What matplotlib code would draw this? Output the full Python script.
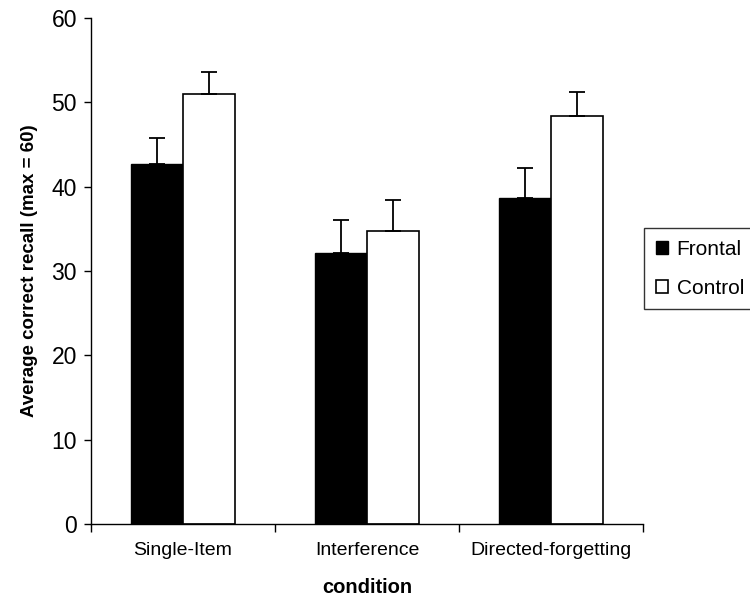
import numpy as np
import matplotlib.pyplot as plt

plt.rcParams['font.family'] = ['Liberation Sans', 'DejaVu Sans']

conditions = ["Single-Item", "Interference", "Directed-forgetting"]
frontal = [42.7, 32.1, 38.7]
frontal_err = [3.1, 3.9, 3.5]
control = [51.0, 34.7, 48.4]
control_err = [2.6, 3.7, 2.8]

fig = plt.figure(figsize=(7.5, 6.04), dpi=100)
ax = fig.add_axes([0.1213, 0.1325, 0.736, 0.838])

x = np.arange(len(conditions))
w = 0.283
err_kw = dict(ecolor='black', elinewidth=1.3, capsize=5.5, capthick=1.3)
ax.bar(x - w / 2, frontal, w, color='black', edgecolor='black', linewidth=1,
       yerr=[np.zeros(3), frontal_err], error_kw=err_kw, label='Frontal')
ax.bar(x + w / 2, control, w, color='white', edgecolor='black', linewidth=1.2,
       yerr=[np.zeros(3), control_err], error_kw=err_kw, label='Control')

ax.set_xlim(-0.5, 2.5)
ax.set_ylim(0, 60)
ax.set_yticks(range(0, 61, 10))
ax.tick_params(axis='y', labelsize=16.5, length=5, width=1, direction='out', pad=5)

ax.set_xticks([-0.5, 0.5, 1.5, 2.5])
ax.set_xticklabels([])
ax.tick_params(axis='x', length=6, width=1, direction='out')
ax.set_xticks(x, minor=True)
ax.set_xticklabels(conditions, minor=True, fontsize=14)
ax.tick_params(axis='x', which='minor', length=0, pad=13)

for s in ['top', 'right']:
    ax.spines[s].set_visible(False)
for s in ['left', 'bottom']:
    ax.spines[s].set_linewidth(1)

ax.set_ylabel('Average correct recall (max = 60)', fontsize=13.5, fontweight='bold', labelpad=10)
ax.set_xlabel('condition', fontsize=14.5, fontweight='bold', labelpad=14)

leg = fig.legend(loc='upper left', bbox_to_anchor=(0.859, 0.622), fontsize=15,
                 frameon=True, fancybox=False, handlelength=0.6, handleheight=0.6,
                 handletextpad=0.4, borderpad=0.55, labelspacing=0.95,
                 borderaxespad=0)
leg.get_frame().set_edgecolor('black')
leg.get_frame().set_linewidth(1)

fig.savefig('out.png', dpi=100)
